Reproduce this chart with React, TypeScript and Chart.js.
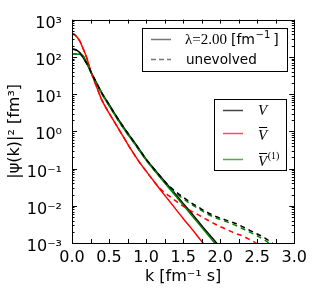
import React, { useEffect, useRef } from "react";
import { Chart, registerables } from "chart.js";

Chart.register(...registerables);

// momentum grid k [fm^-1]
const kValues = [0, 0.05, 0.1, 0.15, 0.2, 0.25, 0.3, 0.35, 0.4, 0.5, 0.6, 0.7, 0.8, 0.9, 1.0, 1.1, 1.2, 1.3, 1.4, 1.5, 1.6, 1.7, 1.8, 1.9, 2.0, 2.1, 2.2, 2.3, 2.4, 2.5, 2.6, 2.7, 2.8];

// |psi(k)|^2 [fm^3], evolved (lambda = 2.00 fm^-1)
const vEvolved = [162, 155, 132, 95.5, 66.1, 41.7, 26.3, 17.0, 11.0, 5.25, 2.51, 1.26, 0.661, 0.347, 0.178, 0.102, 0.0589, 0.0347, 0.02, 0.0115, 0.00676, 0.00389, 0.00224, 0.00132, 0.000759];
const vBarEvolved = [427, 372, 275, 166, 93.3, 42.7, 22.9, 12.6, 7.08, 3.09, 1.45, 0.676, 0.316, 0.158, 0.0851, 0.0468, 0.0257, 0.0145, 0.00813, 0.00457, 0.00263, 0.00148, 0.000832];
const vBar1Evolved = [120, 120, 117, 105, 69.2, 40.7, 25.1, 16.2, 10.5, 4.9, 2.34, 1.17, 0.617, 0.324, 0.17, 0.0955, 0.055, 0.0316, 0.0182, 0.0105, 0.00603, 0.00347, 0.002, 0.00115, 0.000661];

// unevolved
const vUnevolved = [162, 155, 132, 95.5, 66.1, 41.7, 26.3, 17.0, 11.0, 5.25, 2.51, 1.26, 0.661, 0.347, 0.178, 0.102, 0.0589, 0.0355, 0.024, 0.017, 0.0123, 0.00933, 0.00708, 0.00562, 0.00468, 0.00398, 0.00339, 0.00275, 0.00219, 0.00174, 0.00138, 0.001, 0.000708];
const vBarUnevolved = [427, 372, 275, 166, 93.3, 42.7, 22.9, 12.6, 7.08, 3.09, 1.45, 0.676, 0.316, 0.158, 0.0851, 0.0468, 0.0275, 0.0191, 0.0135, 0.00977, 0.00741, 0.00575, 0.00447, 0.00347, 0.00275, 0.00224, 0.00182, 0.00155, 0.00123, 0.000955, 0.000759];
const vBar1Unevolved = [120, 120, 117, 105, 69.2, 40.7, 25.1, 16.2, 10.5, 4.9, 2.34, 1.17, 0.617, 0.324, 0.17, 0.0955, 0.055, 0.0331, 0.0219, 0.0155, 0.0112, 0.00851, 0.00646, 0.00513, 0.00427, 0.00363, 0.00302, 0.00245, 0.00195, 0.00155, 0.0012, 0.000871];

const yTickValues = [0.001, 0.01, 0.1, 1, 10, 100, 1000];
const yTickLabels = ["10\u207B\u00B3", "10\u207B\u00B2", "10\u207B\u00B9", "10\u2070", "10\u00B9", "10\u00B2", "10\u00B3"];
const xTickValues = [0, 0.5, 1.0, 1.5, 2.0, 2.5, 3.0];
const xTickLabels = ["0.0", "0.5", "1.0", "1.5", "2.0", "2.5", "3.0"];

const SANS = "'DejaVu Sans', sans-serif";
const SERIF = "'Liberation Serif', 'DejaVu Serif', serif";

function toPoints(vals: number[]) {
  return vals.map((v, i) => ({ x: kValues[i], y: v }));
}

type Run = { text: string; font: string; dy?: number; gap?: number };

function drawRuns(ctx: CanvasRenderingContext2D, x: number, y: number, runs: Run[]) {
  let cx = x;
  for (const r of runs) {
    ctx.font = r.font;
    cx += r.gap || 0;
    ctx.fillText(r.text, cx, y + (r.dy || 0));
    cx += ctx.measureText(r.text).width;
  }
  return cx;
}

const framePlugin = {
  id: "frameTicksLegend",
  afterDatasetsDraw(chart: any) {
    const ctx: CanvasRenderingContext2D = chart.ctx;
    const ca = chart.chartArea;
    const xs = chart.scales.x;
    const ys = chart.scales.y;
    ctx.save();
    ctx.strokeStyle = "#000";
    ctx.lineWidth = 1;
    // ticks (inward) on all sides
    ctx.beginPath();
    for (let d = -3; d <= 2; d++) {
      for (let m = 1; m <= 9; m++) {
        const v = m * Math.pow(10, d);
        const py = Math.round(ys.getPixelForValue(v)) + 0.5;
        const len = m === 1 ? 5 : 2.5;
        ctx.moveTo(ca.left, py);
        ctx.lineTo(ca.left + len, py);
        ctx.moveTo(ca.right, py);
        ctx.lineTo(ca.right - len, py);
      }
    }
    for (let i = 0; i <= 12; i++) {
      const t = i * 0.25;
      const px = Math.round(xs.getPixelForValue(t)) + 0.5;
      ctx.moveTo(px, ca.bottom);
      ctx.lineTo(px, ca.bottom - 4);
      ctx.moveTo(px, ca.top);
      ctx.lineTo(px, ca.top + 4);
    }
    ctx.stroke();
    // frame
    ctx.strokeRect(Math.round(ca.left) + 0.5, Math.round(ca.top) + 0.5, Math.round(ca.right - ca.left), Math.round(ca.bottom - ca.top));

    // legend 1
    const b1x = Math.round(ca.right) - 152, b1y = Math.round(ca.top) + 8, b1w = 145, b1h = 43;
    ctx.fillStyle = "#fff";
    ctx.fillRect(b1x, b1y, b1w, b1h);
    ctx.strokeRect(b1x + 0.5, b1y + 0.5, b1w, b1h);
    ctx.lineWidth = 1.5;
    ctx.strokeStyle = "#777";
    ctx.beginPath();
    ctx.moveTo(b1x + 9, b1y + 11.5);
    ctx.lineTo(b1x + 29, b1y + 11.5);
    ctx.stroke();
    ctx.setLineDash([5, 3]);
    ctx.beginPath();
    ctx.moveTo(b1x + 9, b1y + 31.5);
    ctx.lineTo(b1x + 29, b1y + 31.5);
    ctx.stroke();
    ctx.setLineDash([]);
    ctx.fillStyle = "#000";
    ctx.textBaseline = "middle";
    ctx.textAlign = "left";
    drawRuns(ctx, b1x + 43, b1y + 12, [
      { text: "\u03BB=2.00", font: `15px ${SERIF}` },
      { text: "[fm", font: `14px ${SANS}`, gap: 4 },
      { text: "\u22121", font: `10px ${SANS}`, dy: -5, gap: 0.5 },
      { text: "]", font: `14px ${SANS}`, gap: 3 },
    ]);
    drawRuns(ctx, b1x + 44, b1y + 32, [{ text: "unevolved", font: `13.6px ${SANS}` }]);

    // legend 2
    const b2x = Math.round(ca.right) - 80, b2y = Math.round(ca.top) + 79, b2w = 72, b2h = 71;
    ctx.fillStyle = "#fff";
    ctx.fillRect(b2x, b2y, b2w, b2h);
    ctx.lineWidth = 1;
    ctx.strokeStyle = "#000";
    ctx.strokeRect(b2x + 0.5, b2y + 0.5, b2w, b2h);
    const rows = [
      { color: "#444", y: 11 },
      { color: "#ff5050", y: 34 },
      { color: "#55a855", y: 60 },
    ];
    ctx.lineWidth = 1.5;
    for (const r of rows) {
      ctx.strokeStyle = r.color;
      ctx.beginPath();
      ctx.moveTo(b2x + 9, b2y + r.y + 0.5);
      ctx.lineTo(b2x + 29, b2y + r.y + 0.5);
      ctx.stroke();
    }
    ctx.fillStyle = "#000";
    const vFont = `italic 15px ${SERIF}`;
    ctx.font = vFont;
    const vw = ctx.measureText("V").width;
    drawRuns(ctx, b2x + 44, b2y + 12, [{ text: "V", font: vFont }]);
    drawRuns(ctx, b2x + 44, b2y + 37, [{ text: "V", font: vFont }]);
    drawRuns(ctx, b2x + 44, b2y + 63, [
      { text: "V", font: vFont },
      { text: "(1)", font: `10px ${SERIF}`, dy: -6, gap: 0.5 },
    ]);
    ctx.strokeStyle = "#000";
    ctx.lineWidth = 1;
    ctx.beginPath();
    ctx.moveTo(b2x + 45, b2y + 28.5);
    ctx.lineTo(b2x + 44 + vw, b2y + 28.5);
    ctx.moveTo(b2x + 45, b2y + 54.5);
    ctx.lineTo(b2x + 44 + vw, b2y + 54.5);
    ctx.stroke();
    ctx.restore();
  },
};

export default function App() {
  const canvasRef = useRef<HTMLCanvasElement | null>(null);

  useEffect(() => {
    if (!canvasRef.current) return;
    const mk = (label: string, vals: number[], color: string, dashed: boolean) => ({
      label,
      data: toPoints(vals),
      borderColor: color,
      backgroundColor: color,
      borderWidth: 1.5,
      borderDash: dashed ? [5, 4] : [],
      pointRadius: 0,
      fill: false,
      cubicInterpolationMode: "monotone" as const,
    });
    const chart = new Chart(canvasRef.current, {
      type: "line",
      data: {
        datasets: [
          mk("V unevolved", vUnevolved, "#000000", true),
          mk("V\u0304(1) unevolved", vBar1Unevolved, "#008000", true),
          mk("V\u0304 unevolved", vBarUnevolved, "#ff0000", true),
          mk("V\u0304(1)", vBar1Evolved, "#008000", false),
          mk("V", vEvolved, "#000000", false),
          mk("V\u0304", vBarEvolved, "#ff0000", false),
        ],
      },
      options: {
        animation: false,
        responsive: true,
        maintainAspectRatio: false,
        layout: { padding: { top: 14, right: 17, left: 0, bottom: 0 } },
        plugins: { legend: { display: false }, tooltip: { enabled: false } },
        scales: {
          x: {
            type: "linear",
            min: 0,
            max: 3,
            afterBuildTicks: (scale: any) => {
              scale.ticks = xTickValues.map((v) => ({ value: v }));
            },
            afterFit: (scale: any) => {
              scale.height = 47;
            },
            ticks: {
              callback: (_v: any, i: number) => xTickLabels[i],
              color: "#000",
              font: { family: SANS, size: 16 },
              padding: 5,
              maxRotation: 0,
              autoSkip: false,
            },
            grid: { display: false, drawTicks: false },
            border: { display: false },
            title: {
              display: true,
              text: "k [fm\u207B\u00B9 s]",
              color: "#000",
              font: { family: SANS, size: 16 },
              padding: { top: 0, bottom: 4 },
            },
          },
          y: {
            type: "logarithmic",
            min: 0.001,
            max: 1000,
            afterBuildTicks: (scale: any) => {
              scale.ticks = yTickValues.map((v) => ({ value: v }));
            },
            afterFit: (scale: any) => {
              scale.width = 72;
            },
            ticks: {
              callback: (_v: any, i: number) => yTickLabels[i],
              color: "#000",
              font: { family: SANS, size: 16 },
              padding: 10,
              labelOffset: 4,
              autoSkip: false,
            },
            grid: { display: false, drawTicks: false },
            border: { display: false },
            title: {
              display: true,
              text: "|\u03C8(k)|\u00B2 [fm\u00B3]",
              color: "#000",
              font: { family: SANS, size: 16 },
              padding: { top: 5, bottom: 0 },
            },
          },
        },
      },
      plugins: [framePlugin],
    });
    return () => chart.destroy();
  }, []);

  return (
    <div style={{ position: "fixed", left: 0, top: 0, width: 312, height: 290, background: "#fff" }}>
      <canvas ref={canvasRef} />
    </div>
  );
}
